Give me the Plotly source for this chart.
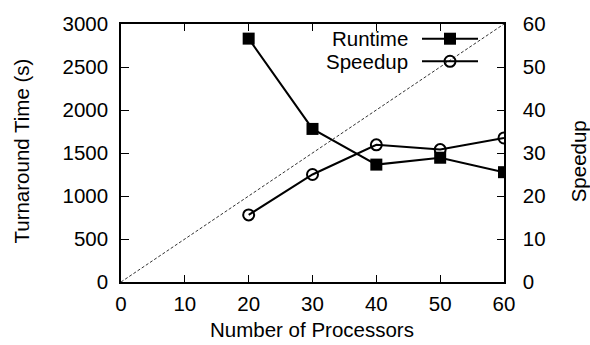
import plotly.graph_objects as go

# Data
processors = [20, 30, 40, 50, 60]
runtime = [2830, 1780, 1365, 1445, 1277]
speedup = [15.6, 25.0, 31.9, 30.8, 33.5]
ideal_x = [0, 60]
ideal_y = [0, 60]
x_ticks = [0, 10, 20, 30, 40, 50, 60]
y1_ticks = [0, 500, 1000, 1500, 2000, 2500, 3000]
y2_ticks = [0, 10, 20, 30, 40, 50, 60]
legend_names = ["Runtime", "Speedup"]

FONT = "Liberation Sans, Arial, sans-serif"
FS = 20.5

fig = go.Figure()

fig.add_trace(go.Scatter(x=ideal_x, y=ideal_y, yaxis="y2", mode="lines",
                         line=dict(color="#333333", width=1, dash="3px,2px"),
                         showlegend=False, hoverinfo="skip"))
fig.add_trace(go.Scatter(x=processors, y=runtime, mode="lines+markers",
                         line=dict(color="black", width=2),
                         marker=dict(symbol="square", size=12, color="black"),
                         showlegend=False))
fig.add_trace(go.Scatter(x=processors, y=speedup, yaxis="y2", mode="lines+markers",
                         line=dict(color="black", width=2),
                         marker=dict(symbol="circle-open", size=11, color="black",
                                     line=dict(width=2, color="black")),
                         showlegend=False))

# Manual gnuplot-style key (text left, sample right)
L, R, T, B = 121, 504, 19, 282
W, H = R - L, B - T
def px(x): return (x - L) / W
def py(y): return (B - y) / H

key_rows = [34, 57]
symbols = [dict(symbol="square", size=12, color="black"),
           dict(symbol="circle-open", size=11, color="black", line=dict(width=2, color="black"))]
for name, ry, sym in zip(legend_names, key_rows, symbols):
    fig.add_annotation(xref="paper", yref="paper", x=px(410), y=py(ry),
                       text=name, showarrow=False, xanchor="right", yanchor="middle",
                       font=dict(family=FONT, size=FS, color="black"))
    fig.add_shape(type="line", xref="paper", yref="paper",
                  x0=px(422), x1=px(478), y0=py(ry), y1=py(ry),
                  line=dict(color="black", width=2))
    fig.add_trace(go.Scatter(x=[px(450)], y=[py(ry)], xaxis="x3", yaxis="y3",
                             mode="markers", marker=sym, showlegend=False,
                             hoverinfo="skip", cliponaxis=False))

# Axis titles as annotations for exact placement
fig.add_annotation(xref="paper", yref="paper", x=px(312), y=py(344), text="Number of Processors",
                   showarrow=False, xanchor="center", yanchor="bottom",
                   font=dict(family=FONT, size=FS, color="black"))
for text, ax, ay in [("Turnaround Time (s)", px(22), py(149)), ("Speedup", px(578), py(159))]:
    fig.add_annotation(xref="paper", yref="paper", x=ax, y=ay, text=text,
                       showarrow=False, xanchor="center", yanchor="middle",
                       textangle=-90, font=dict(family=FONT, size=FS, color="black"))

axis_common = dict(showgrid=False, zeroline=False, showline=True, linecolor="black",
                   linewidth=1.5, ticks="inside", tickcolor="black", tickwidth=1,
                   tickfont=dict(family=FONT, size=FS, color="black"))

fig.update_layout(
    width=590, height=345,
    margin=dict(l=L, r=590 - R, t=T, b=345 - B),
    paper_bgcolor="white", plot_bgcolor="white",
    xaxis=dict(range=[0, 60], tickvals=x_ticks, ticklen=7, mirror="ticks",
               ticklabelstandoff=3, **axis_common),
    yaxis=dict(range=[0, 3000], tickvals=y1_ticks, ticklen=8, ticklabelstandoff=7,
               **axis_common),
    yaxis2=dict(range=[0, 60], tickvals=y2_ticks, ticklen=7, overlaying="y", side="right",
                ticklabelstandoff=13, **axis_common),
    xaxis3=dict(range=[0, 1], visible=False, overlaying="x", fixedrange=True),
    yaxis3=dict(range=[0, 1], visible=False, overlaying="y", fixedrange=True),
)

fig.write_html("out.html")
